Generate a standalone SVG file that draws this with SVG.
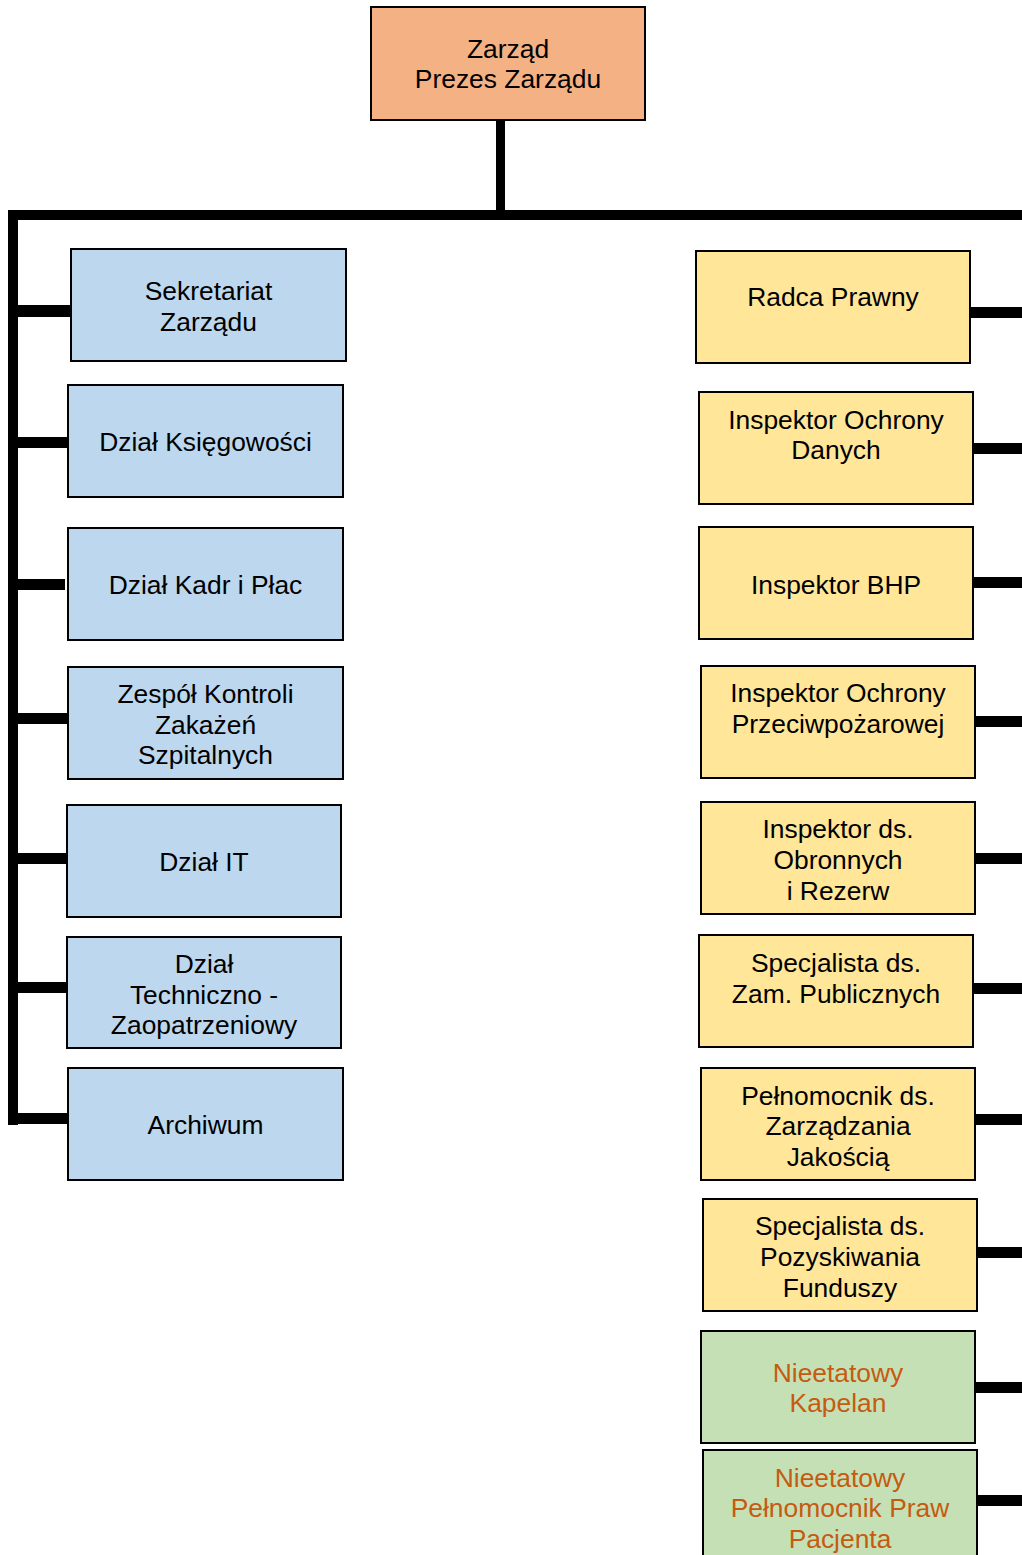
<svg xmlns="http://www.w3.org/2000/svg" width="1022" height="1555" viewBox="0 0 1022 1555">
<style>
rect.box{stroke:#000;stroke-width:2}
.top{fill:#F4B183}
.blue{fill:#BDD7EE}
.yel{fill:#FFE699}
.grn{fill:#C5E0B4}
text{font-family:"Liberation Sans",Arial,sans-serif;font-size:26.4px;fill:#000;text-anchor:middle}
text.or{fill:#C55A11}
.ln{fill:#000}
</style>
<rect width="1022" height="1555" fill="#fff"/>
<g id="connectors" class="ln">
<rect x="496" y="120" width="9" height="95"/>
<rect x="8" y="210" width="1014" height="10"/>
<rect x="8" y="210" width="10" height="915"/>
<rect x="13" y="305" width="58" height="12"/>
<rect x="13" y="437" width="55" height="11"/>
<rect x="13" y="579" width="52" height="11"/>
<rect x="13" y="713" width="55" height="11"/>
<rect x="13" y="853" width="54" height="11"/>
<rect x="13" y="982" width="54" height="11"/>
<rect x="13" y="1113" width="55" height="11"/>
<rect x="970" y="307" width="52" height="11"/>
<rect x="973" y="443" width="49" height="11"/>
<rect x="973" y="577" width="49" height="11"/>
<rect x="972" y="716" width="50" height="11"/>
<rect x="973" y="853" width="49" height="11"/>
<rect x="973" y="983" width="49" height="11"/>
<rect x="975" y="1114" width="47" height="11"/>
<rect x="977" y="1247" width="45" height="11"/>
<rect x="975" y="1382" width="47" height="11"/>
<rect x="977" y="1495" width="45" height="11"/>
</g>
<g id="zarzad"><rect class="box top" x="371" y="7" width="274" height="113"/><text x="508" y="58">Zarząd</text><text x="508" y="88">Prezes Zarządu</text></g>
<g id="sekretariat"><rect class="box blue" x="71" y="249" width="275" height="112"/><text x="208.5" y="300">Sekretariat</text><text x="208.5" y="331">Zarządu</text></g>
<g id="ksiegowosc"><rect class="box blue" x="68" y="385" width="275" height="112"/><text x="205.5" y="451">Dział Księgowości</text></g>
<g id="kadry"><rect class="box blue" x="68" y="528" width="275" height="112"/><text x="205.5" y="594">Dział Kadr i Płac</text></g>
<g id="zespol"><rect class="box blue" x="68" y="667" width="275" height="112"/><text x="205.5" y="703">Zespół Kontroli</text><text x="205.5" y="734">Zakażeń</text><text x="205.5" y="764">Szpitalnych</text></g>
<g id="it"><rect class="box blue" x="67" y="805" width="274" height="112"/><text x="204" y="871">Dział IT</text></g>
<g id="techniczny"><rect class="box blue" x="67" y="937" width="274" height="111"/><text x="204" y="973">Dział</text><text x="204" y="1004">Techniczno -</text><text x="204" y="1034">Zaopatrzeniowy</text></g>
<g id="archiwum"><rect class="box blue" x="68" y="1068" width="275" height="112"/><text x="205.5" y="1134">Archiwum</text></g>
<g id="radca"><rect class="box yel" x="696" y="251" width="274" height="112"/><text x="833" y="306">Radca Prawny</text></g>
<g id="iod"><rect class="box yel" x="699" y="392" width="274" height="112"/><text x="836" y="429">Inspektor Ochrony</text><text x="836" y="459">Danych</text></g>
<g id="bhp"><rect class="box yel" x="699" y="527" width="274" height="112"/><text x="836" y="594">Inspektor BHP</text></g>
<g id="ppoz"><rect class="box yel" x="701" y="666" width="274" height="112"/><text x="838" y="702">Inspektor Ochrony</text><text x="838" y="733">Przeciwpożarowej</text></g>
<g id="obronne"><rect class="box yel" x="701" y="802" width="274" height="112"/><text x="838" y="838">Inspektor ds.</text><text x="838" y="869">Obronnych</text><text x="838" y="900">i Rezerw</text></g>
<g id="zamowienia"><rect class="box yel" x="699" y="935" width="274" height="112"/><text x="836" y="972">Specjalista ds.</text><text x="836" y="1003">Zam. Publicznych</text></g>
<g id="jakosc"><rect class="box yel" x="701" y="1068" width="274" height="112"/><text x="838" y="1105">Pełnomocnik ds.</text><text x="838" y="1135">Zarządzania</text><text x="838" y="1166">Jakością</text></g>
<g id="fundusze"><rect class="box yel" x="703" y="1199" width="274" height="112"/><text x="840" y="1235">Specjalista ds.</text><text x="840" y="1266">Pozyskiwania</text><text x="840" y="1297">Funduszy</text></g>
<g id="kapelan"><rect class="box grn" x="701" y="1331" width="274" height="112"/><text class="or" x="838" y="1382">Nieetatowy</text><text class="or" x="838" y="1412">Kapelan</text></g>
<g id="pacjent"><rect class="box grn" x="703" y="1450" width="274" height="115"/><text class="or" x="840" y="1487">Nieetatowy</text><text class="or" x="840" y="1517">Pełnomocnik Praw</text><text class="or" x="840" y="1548">Pacjenta</text></g>
</svg>
